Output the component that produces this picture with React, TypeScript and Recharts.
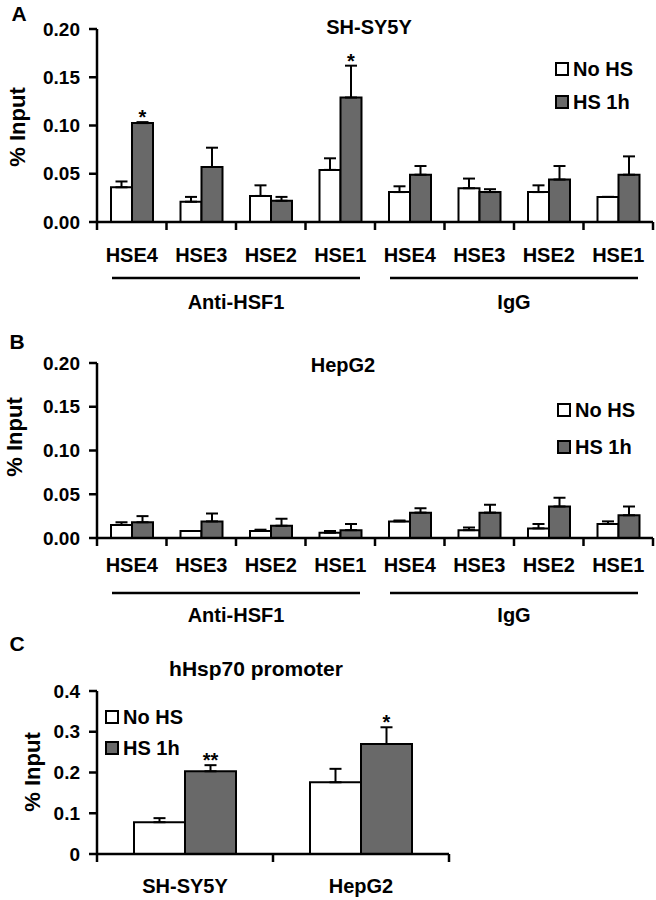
import React from "react";
import { BarChart, Bar, XAxis, YAxis, ErrorBar, LabelList, Legend } from "recharts";

const FONT = '"Liberation Sans", Arial, Helvetica, sans-serif';
const GRAY = "#696969";
const INK = "#000";

// categories
const hseSites = ["HSE4", "HSE3", "HSE2", "HSE1", "HSE4", "HSE3", "HSE2", "HSE1"];
const antibodyGroups = ["Anti-HSF1", "IgG"];
const cellLines = ["SH-SY5Y", "HepG2"];

// A: SH-SY5Y, % input
const shNoHs = [0.036, 0.021, 0.027, 0.054, 0.031, 0.035, 0.031, 0.026];
const shNoHsErr = [0.006, 0.005, 0.011, 0.012, 0.006, 0.01, 0.007, 0];
const shHs = [0.1025, 0.057, 0.022, 0.129, 0.049, 0.031, 0.044, 0.049];
const shHsErr = [0.001, 0.02, 0.004, 0.033, 0.009, 0.003, 0.014, 0.019];
const shStars = ["*", "", "", "*", "", "", "", ""];

// B: HepG2, % input
const hepNoHs = [0.015, 0.008, 0.008, 0.006, 0.019, 0.009, 0.011, 0.016];
const hepNoHsErr = [0.003, 0, 0.0015, 0.002, 0.001, 0.003, 0.005, 0.003];
const hepHs = [0.018, 0.019, 0.014, 0.009, 0.029, 0.029, 0.036, 0.026];
const hepHsErr = [0.007, 0.009, 0.008, 0.007, 0.005, 0.009, 0.01, 0.01];

// C: hHsp70 promoter
const promNoHs = [0.078, 0.176];
const promNoHsErr = [0.01, 0.033];
const promHs = [0.203, 0.27];
const promHsErr = [0.015, 0.041];
const promStars = ["**", "*"];

const hseTicks = [0, 0.05, 0.1, 0.15, 0.2];
const promTicks = [0, 0.1, 0.2, 0.3, 0.4];

const seriesOrder = ["noHs", "hs"];
const seriesNames = { noHs: "No HS", hs: "HS 1h" };
const seriesFill: Record<string, string> = { noHs: "#fff", hs: GRAY };

const boldText = { fill: INK, fontFamily: FONT, fontWeight: "bold" as const };
const axisStroke = { stroke: INK, strokeWidth: 2.5 };

function buildRows(
  cats: string[],
  noHs: number[],
  noHsErr: number[],
  hs: number[],
  hsErr: number[],
  stars?: string[]
) {
  return cats.map((cat, i) => ({
    cat,
    noHs: noHs[i],
    noHsErr: [0, noHsErr[i]],
    hs: hs[i],
    hsErr: [0, hsErr[i]],
    star: stars ? stars[i] : "",
  }));
}

const rowsA = buildRows(hseSites, shNoHs, shNoHsErr, shHs, shHsErr, shStars);
const rowsB = buildRows(hseSites, hepNoHs, hepNoHsErr, hepHs, hepHsErr);
const rowsC = buildRows(cellLines, promNoHs, promNoHsErr, promHs, promHsErr, promStars);

// x tick: boundary ticks between categories, label, optional group underline + name
function makeTick(
  cats: string[],
  plotWidth: number,
  labelDy: number,
  groups?: { names: string[]; lineDy: number; labelDy: number }
) {
  const band = plotWidth / cats.length;
  return (props: any) => {
    const { x, y, payload, index } = props;
    const perGroup = groups ? cats.length / groups.names.length : 0;
    const first = groups && index % perGroup === 0;
    return (
      <g>
        <line x1={x - band / 2} x2={x - band / 2} y1={y} y2={y + 8} stroke={INK} strokeWidth={2.5} />
        {index === cats.length - 1 && (
          <line x1={x + band / 2} x2={x + band / 2} y1={y} y2={y + 8} stroke={INK} strokeWidth={2.5} />
        )}
        <text x={x} y={y + labelDy} textAnchor="middle" fontSize={20} {...boldText}>
          {payload.value}
        </text>
        {first && groups && (
          <g>
            <line
              x1={x - band / 2 + 15}
              x2={x + (perGroup - 0.5) * band - 15}
              y1={y + groups.lineDy}
              y2={y + groups.lineDy}
              stroke={INK}
              strokeWidth={2.5}
            />
            <text
              x={x + ((perGroup - 1) / 2) * band}
              y={y + groups.labelDy}
              textAnchor="middle"
              fontSize={20}
              {...boldText}
            >
              {groups.names[index / perGroup]}
            </text>
          </g>
        )}
      </g>
    );
  };
}

// significance stars sit just above the error cap
function makeStar(values: number[], errs: number[]) {
  return (props: any) => {
    const { x, y, width, height, value, index } = props;
    if (!value) return null;
    const pxPerUnit = height / values[index];
    const errTop = y - errs[index] * pxPerUnit;
    return (
      <text x={x + width / 2} y={errTop + 2} textAnchor="middle" fontSize={20} {...boldText}>
        {value}
      </text>
    );
  };
}

function makeLegend(rowGap: number) {
  return (props: any) => {
    const items = [...(props.payload || [])].sort(
      (a: any, b: any) => seriesOrder.indexOf(a.dataKey) - seriesOrder.indexOf(b.dataKey)
    );
    return (
      <div style={{ fontFamily: FONT, fontWeight: "bold", fontSize: 20, color: INK }}>
        {items.map((item: any) => (
          <div
            key={item.value}
            style={{ display: "flex", alignItems: "center", height: 20, marginBottom: rowGap }}
          >
            <span
              style={{
                display: "inline-block",
                width: 10,
                height: 10,
                border: "2px solid #000",
                background: seriesFill[item.dataKey] || item.color,
                marginRight: 4,
              }}
            />
            <span style={{ lineHeight: "20px" }}>{item.value}</span>
          </div>
        ))}
      </div>
    );
  };
}

function Txt(props: { x: number; y: number; size?: number; rotate?: boolean; children: React.ReactNode }) {
  return (
    <div
      style={{
        position: "absolute",
        left: props.x,
        top: props.y,
        transform: `translate(-50%, -50%)${props.rotate ? " rotate(-90deg)" : ""}`,
        fontFamily: FONT,
        fontWeight: "bold",
        fontSize: props.size || 20,
        lineHeight: 1,
        whiteSpace: "nowrap",
        color: INK,
      }}
    >
      {props.children}
    </div>
  );
}

function HsePanel(props: {
  top: number;
  height: number;
  data: any[];
  marginTop: number;
  marginBottom: number;
  axisHeight: number;
  labelDy: number;
  lineDy: number;
  groupDy: number;
  legendTop: number;
  legendLeft: number;
  legendGap: number;
  hsValues: number[];
  hsErrs: number[];
}) {
  const width = 656;
  const yAxisW = 97;
  const right = 3;
  const plotW = width - yAxisW - right;
  return (
    <div style={{ position: "absolute", left: 0, top: props.top }}>
      <BarChart
        width={width}
        height={props.height}
        data={props.data}
        margin={{ top: props.marginTop, right, left: 0, bottom: props.marginBottom }}
        barGap={0}
      >
        <XAxis
          dataKey="cat"
          height={props.axisHeight}
          axisLine={axisStroke}
          tickLine={false}
          tickSize={0}
          tickMargin={0}
          interval={0}
          tick={makeTick(hseSites, plotW, props.labelDy, {
            names: antibodyGroups,
            lineDy: props.lineDy,
            labelDy: props.groupDy,
          })}
        />
        <YAxis
          width={yAxisW}
          domain={[0, 0.2]}
          ticks={hseTicks}
          interval={0}
          allowDataOverflow
          tickFormatter={(v: number) => v.toFixed(2)}
          axisLine={axisStroke}
          tickLine={axisStroke}
          tickSize={8}
          tickMargin={9}
          tick={{ ...boldText, fontSize: 19 }}
        />
        <Legend
          layout="horizontal"
          verticalAlign="middle"
          align="center"
          content={makeLegend(props.legendGap)}
          wrapperStyle={{ top: props.legendTop, left: props.legendLeft, width: "auto", height: "auto" }}
        />
        <Bar dataKey="noHs" name={seriesNames.noHs} fill="#fff" stroke={INK} strokeWidth={2} barSize={21} isAnimationActive={false}>
          <ErrorBar dataKey="noHsErr" direction="y" width={6} stroke={INK} strokeWidth={2} />
        </Bar>
        <Bar dataKey="hs" name={seriesNames.hs} fill={GRAY} stroke={INK} strokeWidth={2} barSize={21} isAnimationActive={false}>
          <ErrorBar dataKey="hsErr" direction="y" width={6} stroke={INK} strokeWidth={2} />
          <LabelList dataKey="star" content={makeStar(props.hsValues, props.hsErrs)} />
        </Bar>
      </BarChart>
    </div>
  );
}

export default function App() {
  const promPlotW = 449 - 97;
  return (
    <div
      style={{
        position: "absolute",
        left: 0,
        top: 0,
        width: 656,
        height: 900,
        background: "#fff",
        overflow: "hidden",
      }}
    >
      <HsePanel
        top={0}
        height={330}
        data={rowsA}
        marginTop={29}
        marginBottom={8}
        axisHeight={100}
        labelDy={40}
        lineDy={56}
        groupDy={87}
        legendTop={59}
        legendLeft={555}
        legendGap={13}
        hsValues={shHs}
        hsErrs={shHsErr}
      />
      <HsePanel
        top={330}
        height={300}
        data={rowsB}
        marginTop={33}
        marginBottom={2}
        axisHeight={90}
        labelDy={34}
        lineDy={55}
        groupDy={84}
        legendTop={70}
        legendLeft={557}
        legendGap={17}
        hsValues={hepHs}
        hsErrs={hepHsErr}
      />
      <div style={{ position: "absolute", left: 0, top: 630 }}>
        <BarChart
          width={656}
          height={270}
          data={rowsC}
          margin={{ top: 61, right: 656 - 449, left: 0, bottom: 2 }}
          barGap={0}
        >
          <XAxis
            dataKey="cat"
            height={44}
            axisLine={axisStroke}
            tickLine={false}
            tickSize={0}
            tickMargin={0}
            interval={0}
            tick={makeTick(cellLines, promPlotW, 39)}
          />
          <YAxis
            width={97}
            domain={[0, 0.4]}
            ticks={promTicks}
            interval={0}
            allowDataOverflow
            tickFormatter={(v: number) => (v === 0 ? "0" : v.toFixed(1))}
            axisLine={axisStroke}
            tickLine={axisStroke}
            tickSize={8}
            tickMargin={9}
            tick={{ ...boldText, fontSize: 19 }}
          />
          <Legend
            layout="horizontal"
            verticalAlign="middle"
            align="center"
            content={makeLegend(11)}
            wrapperStyle={{ top: 77, left: 105, width: "auto", height: "auto" }}
          />
          <Bar dataKey="noHs" name={seriesNames.noHs} fill="#fff" stroke={INK} strokeWidth={2} barSize={51} isAnimationActive={false}>
            <ErrorBar dataKey="noHsErr" direction="y" width={6} stroke={INK} strokeWidth={2} />
          </Bar>
          <Bar dataKey="hs" name={seriesNames.hs} fill={GRAY} stroke={INK} strokeWidth={2} barSize={51} isAnimationActive={false}>
            <ErrorBar dataKey="hsErr" direction="y" width={6} stroke={INK} strokeWidth={2} />
            <LabelList dataKey="star" content={makeStar(promHs, promHsErr)} />
          </Bar>
        </BarChart>
      </div>

      <Txt x={19} y={13} size={21}>A</Txt>
      <Txt x={369} y={27}>SH-SY5Y</Txt>
      <Txt x={18} y={127} size={22} rotate>% Input</Txt>

      <Txt x={17} y={341} size={21}>B</Txt>
      <Txt x={343} y={365}>HepG2</Txt>
      <Txt x={15} y={437} size={22} rotate>% Input</Txt>

      <Txt x={17} y={643} size={21}>C</Txt>
      <Txt x={256} y={668} size={21}>hHsp70 promoter</Txt>
      <Txt x={33} y={772} size={22} rotate>% Input</Txt>
    </div>
  );
}
